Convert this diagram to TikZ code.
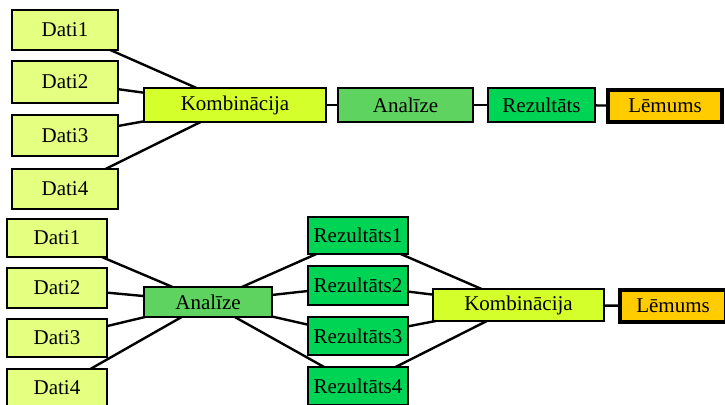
\documentclass[tikz,border=0pt]{standalone}
\usepackage{fontspec}
\setmainfont{Liberation Serif}
\definecolor{datic}{HTML}{E5FF80}
\definecolor{kombc}{HTML}{D4FF2A}
\definecolor{analc}{HTML}{5FD35F}
\definecolor{rezc}{HTML}{00D455}
\definecolor{lemc}{HTML}{FFCC00}
\tikzset{
  box/.style={draw=black, line width=2pt, inner sep=0pt, outer sep=0pt,
    font=\fontsize{21}{25}\selectfont},
  datibox/.style={box, fill=datic},
  kombbox/.style={box, fill=kombc},
  analbox/.style={box, fill=analc},
  rezbox/.style={box, fill=rezc},
  lembox/.style={box, fill=lemc, line width=3.2pt},
  link/.style={draw=black, line width=2.4pt}
}
\begin{document}
\begin{tikzpicture}[x=1pt, y=-1pt]
\useasboundingbox (0,0) rectangle (725,404);
\clip (0,0) rectangle (725,404);
\fill[white] (0,0) rectangle (725,404);

% upper chain: combine data first, then analyse
\node[datibox, minimum width=106pt, minimum height=40pt] (d1t) at (65,30) {Dati1};
\node[datibox, minimum width=106pt, minimum height=42pt] (d2t) at (65,82) {Dati2};
\node[datibox, minimum width=106pt, minimum height=41pt] (d3t) at (65,135.5) {Dati3};
\node[datibox, minimum width=106pt, minimum height=40pt] (d4t) at (65,189) {Dati4};
\node[kombbox, minimum width=182pt, minimum height=34pt] (kt) at (235,105) {Kombinācija};
\node[analbox, minimum width=135pt, minimum height=34pt] (at) at (405.5,105) {Analīze};
\node[rezbox, minimum width=107pt, minimum height=34pt] (rt) at (541.5,105) {Rezultāts};
\node[lembox, minimum width=114pt, minimum height=32pt] (lt) at (665,106) {Lēmums};

\foreach \d in {d1t,d2t,d3t,d4t} \draw[link] (\d) -- (kt);
\draw[link] (kt) -- (at);
\draw[link] (at) -- (rt);
\draw[link] (rt) -- (lt);

% lower chain: analyse each data set, then combine the results
\node[datibox, minimum width=100pt, minimum height=38pt] (d1b) at (57,238) {Dati1};
\node[datibox, minimum width=100pt, minimum height=40pt] (d2b) at (57,288) {Dati2};
\node[datibox, minimum width=100pt, minimum height=38pt] (d3b) at (57,338) {Dati3};
\node[datibox, minimum width=100pt, minimum height=38pt] (d4b) at (57,388) {Dati4};
\node[analbox, minimum width=128pt, minimum height=30pt] (ab) at (208,302) {Analīze};
\node[rezbox, minimum width=100pt, minimum height=37pt] (r1) at (358,235.5) {Rezultāts1};
\node[rezbox, minimum width=100pt, minimum height=39pt] (r2) at (358,285.5) {Rezultāts2};
\node[rezbox, minimum width=100pt, minimum height=38pt] (r3) at (358,336) {Rezultāts3};
\node[rezbox, minimum width=100pt, minimum height=38pt] (r4) at (358,386) {Rezultāts4};
\node[kombbox, minimum width=171pt, minimum height=32pt] (kb) at (518.5,305) {Kombinācija};
\node[lembox, minimum width=106pt, minimum height=32pt] (lb) at (673,306) {Lēmums};

\foreach \d in {d1b,d2b,d3b,d4b} \draw[link] (\d) -- (ab);
\foreach \r in {r1,r2,r3,r4} {
  \draw[link] (ab) -- (\r);
  \draw[link] (\r) -- (kb);
}
\draw[link] (kb) -- (lb);
\end{tikzpicture}
\end{document}
